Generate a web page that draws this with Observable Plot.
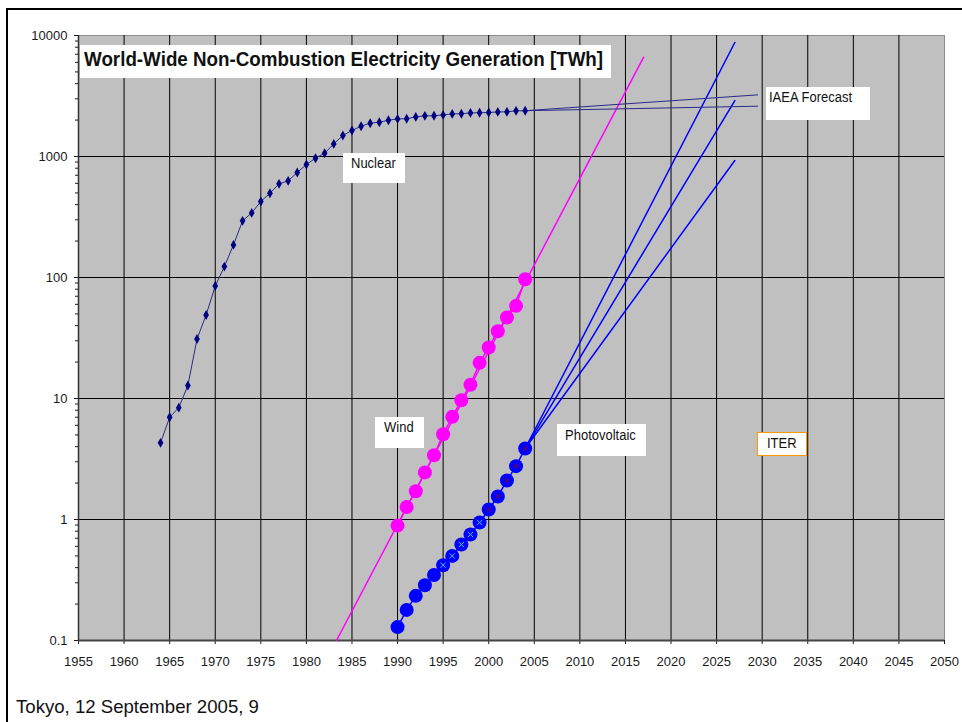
<!DOCTYPE html>
<html><head><meta charset="utf-8">
<script src="https://cdn.jsdelivr.net/npm/d3@7"></script>
<script src="https://cdn.jsdelivr.net/npm/@observablehq/plot@0.6"></script>
<style>
html,body{margin:0;padding:0;background:#fff;overflow:hidden;width:962px;height:722px}
body{position:relative;font-family:"Liberation Sans",Arial,sans-serif}
#frame{position:absolute;left:6px;top:8px;width:1000px;height:800px;border:2px solid #000}
#chart{position:absolute;left:0;top:0}
.box{position:absolute;background:#fff}
.lbl{position:absolute;white-space:nowrap;color:#111}
</style></head><body>
<div id="frame"></div>
<div id="chart"></div>
<script>
// ---- data ----
const xTicks = [1955,1960,1965,1970,1975,1980,1985,1990,1995,2000,2005,2010,2015,2020,2025,2030,2035,2040,2045,2050];
const xTickLabels = ["1955","1960","1965","1970","1975","1980","1985","1990","1995","2000","2005","2010","2015","2020","2025","2030","2035","2040","2045","2050"];
const yTicks = [0.1, 1, 10, 100, 1000, 10000];
const yTickLabels = ["0.1","1","10","100","1000","10000"];

const nuclearYears = [1964,1965,1966,1967,1968,1969,1970,1971,1972,1973,1974,1975,1976,1977,1978,1979,1980,1981,1982,1983,1984,1985,1986,1987,1988,1989,1990,1991,1992,1993,1994,1995,1996,1997,1998,1999,2000,2001,2002,2003,2004];
const nuclearTWh = [4.3,7.0,8.4,12.8,31,49,85,123,186,294,342,425,497,594,629,738,859,968,1065,1271,1492,1640,1780,1885,1920,1995,2046,2050,2125,2167,2170,2207,2250,2255,2293,2300,2310,2336,2340,2383,2390];

const iaeaYears = [2004, 2029.5];
const iaeaHigh = [2390, 3230];
const iaeaLow = [2390, 2605];

const windYears = [1990,1991,1992,1993,1994,1995,1996,1997,1998,1999,2000,2001,2002,2003,2004];
const windTWh = [0.89,1.27,1.71,2.45,3.40,5.07,7.05,9.68,13.0,19.7,26.4,36.0,46.7,58.3,96.8];
const windTrendYears = [1983.3, 2017];
const windTrendTWh = [0.1, 6620];

const pvYears = [1990,1991,1992,1993,1994,1995,1996,1997,1998,1999,2000,2001,2002,2003,2004];
const pvTWh = [0.129,0.179,0.234,0.286,0.348,0.419,0.500,0.621,0.751,0.945,1.21,1.55,2.10,2.76,3.86];
const pvForecastYears = [2004, 2027];
const pvHigh = [3.86, 8750];
const pvMid = [3.86, 2900];
const pvLow = [3.86, 927];

// ---- tables ----
const zip = (xs, ys) => xs.map((x, i) => ({x, y: ys[i]}));
const nuclear = zip(nuclearYears, nuclearTWh);
const wind = zip(windYears, windTWh);
const pv = zip(pvYears, pvTWh);
const minorTicks = yTicks.slice(0, -1).flatMap(d => [2,3,4,5,6,7,8,9].map(k => d * k));

const plot = Plot.plot({
  width: 962, height: 680,
  marginLeft: 78, marginRight: 18, marginTop: 35, marginBottom: 40,
  style: {fontFamily: "Liberation Sans, Arial, sans-serif", fontSize: "13px", color: "#1a1a1a", background: "transparent", overflow: "visible"},
  x: {domain: [1955, 2050]},
  y: {type: "log", domain: [0.1, 10000]},
  marks: [
    Plot.frame({fill: "#c0c0c0", stroke: "#8c8c8c"}),
    Plot.gridX(xTicks.slice(1, -1), {stroke: "#000", strokeOpacity: 1, strokeWidth: 1}),
    Plot.gridY(yTicks.slice(1, -1), {stroke: "#000", strokeOpacity: 1, strokeWidth: 1}),
    Plot.axisX(xTicks, {tickSize: 4, tickPadding: 12.5, fontSize: 13, tickFormat: d => xTickLabels[xTicks.indexOf(d)], label: null}),
    Plot.axisY(minorTicks, {tickSize: 3, tickFormat: () => "", label: null}),
    Plot.axisY(yTicks, {tickSize: 4, tickPadding: 7, fontSize: 13, tickFormat: d => yTickLabels[yTicks.indexOf(d)], label: null}),
    Plot.ruleX([1955], {stroke: "#333", strokeWidth: 1.5}),
    Plot.ruleY([0.1], {stroke: "#444", strokeWidth: 2}),
    // wind
    Plot.line(zip(windTrendYears, windTrendTWh), {x: "x", y: "y", stroke: "#ff00ff", strokeWidth: 1.5}),
    Plot.line(wind, {x: "x", y: "y", stroke: "#ff00ff", strokeWidth: 1.5}),
    Plot.dot(wind, {x: "x", y: "y", r: 7, fill: "#ff00ff", stroke: null}),
    // photovoltaic
    Plot.line(zip(pvForecastYears, pvHigh), {x: "x", y: "y", stroke: "#0000ff", strokeWidth: 1.5}),
    Plot.line(zip(pvForecastYears, pvMid), {x: "x", y: "y", stroke: "#0000ff", strokeWidth: 1.5}),
    Plot.line(zip(pvForecastYears, pvLow), {x: "x", y: "y", stroke: "#0000ff", strokeWidth: 1.5}),
    Plot.line(pv, {x: "x", y: "y", stroke: "#0000ff", strokeWidth: 1.5}),
    Plot.dot(pv, {x: "x", y: "y", r: 7, fill: "#0000ff", stroke: null}),
    Plot.dot(pv.filter(d => d.x >= 1995 && d.x < 2000), {x: "x", y: "y", r: 2.5, symbol: "times", stroke: "#33ccff", strokeWidth: 1}),
    Plot.dot(pv.filter(d => d.x >= 2000), {x: "x", y: "y", r: 2, symbol: "times", stroke: "#a00000", strokeWidth: 1}),
    // nuclear
    Plot.line(zip(iaeaYears, iaeaHigh), {x: "x", y: "y", stroke: "#2a2a8a", strokeWidth: 1}),
    Plot.line(zip(iaeaYears, iaeaLow), {x: "x", y: "y", stroke: "#2a2a8a", strokeWidth: 1}),
    Plot.line(nuclear, {x: "x", y: "y", stroke: "#2a2a8a", strokeWidth: 1}),
    Plot.dot(nuclear, {x: "x", y: "y", r: 3, symbol: "diamond", fill: "#000080", stroke: null})
  ]
});
document.getElementById("chart").appendChild(plot);

// ---- annotation boxes and text ----
function addBox(left, top, w, h, border) {
  const b = document.createElement("div");
  b.className = "box";
  Object.assign(b.style, {left: left + "px", top: top + "px", width: w + "px", height: h + "px"});
  if (border) { b.style.boxSizing = "border-box"; b.style.border = border; }
  document.body.appendChild(b);
}
function addText(txt, left, baseline, fs, weight, sy) {
  const d = document.createElement("div");
  d.className = "lbl";
  d.textContent = txt;
  const asc = 0.8465 * fs;
  Object.assign(d.style, {
    left: left + "px", top: (baseline - asc) + "px", fontSize: fs + "px", lineHeight: fs + "px",
    fontWeight: weight, transformOrigin: `0 ${asc}px`, transform: `scaleY(${sy})`
  });
  document.body.appendChild(d);
}
addBox(80, 45, 531, 33);
addText("World-Wide Non-Combustion Electricity Generation [TWh]", 84, 66.7, 18.8, "bold", 1.11);
addBox(343, 153, 62, 30);
addText("Nuclear", 351, 168.3, 13, "normal", 1.12);
addBox(766, 87, 104, 33);
addText("IAEA Forecast", 769, 101.7, 13, "normal", 1.12);
addBox(375, 417, 49, 31);
addText("Wind", 384, 432.3, 13, "normal", 1.12);
addBox(557, 424, 89, 32);
addText("Photovoltaic", 565, 439.7, 13, "normal", 1.12);
addBox(757, 432, 50, 24, "1.5px solid #ff9900");
addText("ITER", 767, 448, 13, "normal", 1.12);
addText("Tokyo, 12 September 2005, 9", 16, 713.3, 18.6, "normal", 1);
</script></body></html>
